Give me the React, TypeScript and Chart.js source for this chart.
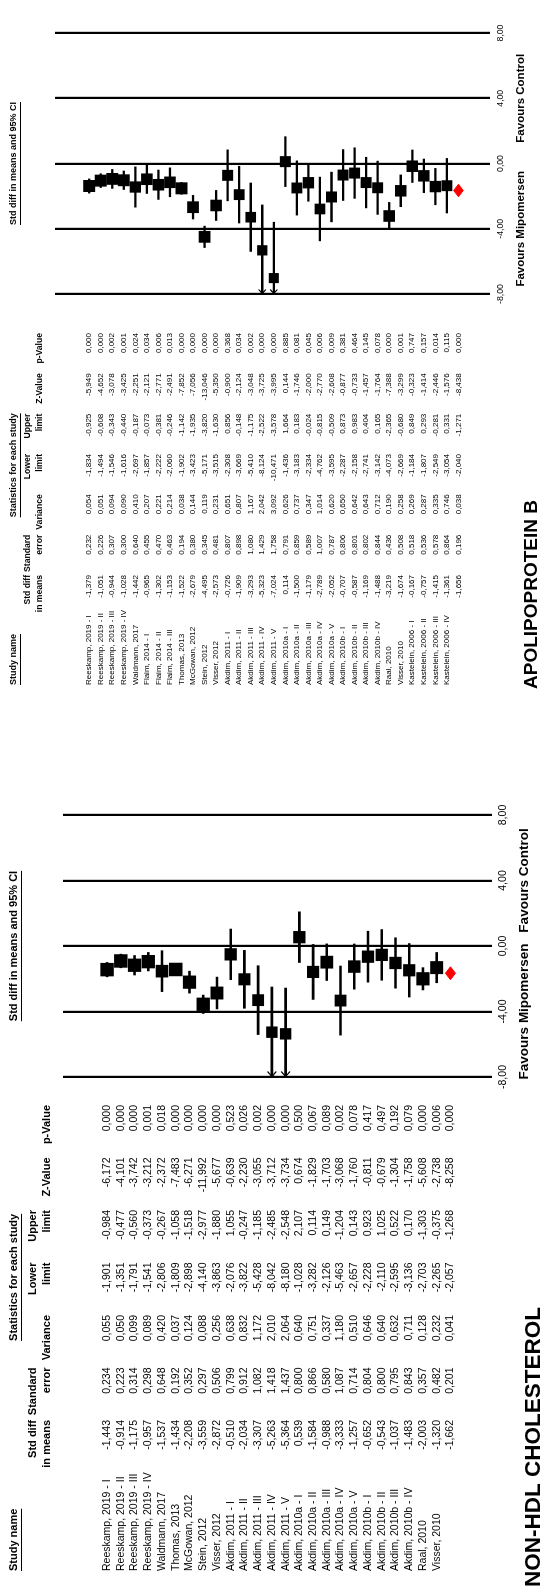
import React, { useEffect, useRef } from "react";
import { Chart, registerables } from "chart.js";

Chart.register(...registerables);

// ---------------- Non-HDL cholesterol ----------------
const nonHdlStudies = [
  "Reeskamp, 2019 - I", "Reeskamp, 2019 - II", "Reeskamp, 2019 - III", "Reeskamp, 2019 - IV",
  "Waldmann, 2017", "Thomas, 2013", "McGowan, 2012", "Stein, 2012", "Visser, 2012",
  "Akdim, 2011 - I", "Akdim, 2011 - II", "Akdim, 2011 - III", "Akdim, 2011 - IV", "Akdim, 2011 - V",
  "Akdim, 2010a - I", "Akdim, 2010a - II", "Akdim, 2010a - III", "Akdim, 2010a - IV", "Akdim, 2010a - V",
  "Akdim, 2010b - I", "Akdim, 2010b - II", "Akdim, 2010b - III", "Akdim, 2010b - IV",
  "Raal, 2010", "Visser, 2010",
];
const nonHdlSmd = [-1.443, -0.914, -1.175, -0.957, -1.537, -1.434, -2.208, -3.559, -2.872, -0.510, -2.034, -3.307, -5.263, -5.364, 0.539, -1.584, -0.988, -3.333, -1.257, -0.652, -0.543, -1.037, -1.483, -2.003, -1.320];
const nonHdlSe = [0.234, 0.223, 0.314, 0.298, 0.648, 0.192, 0.352, 0.297, 0.506, 0.799, 0.912, 1.082, 1.418, 1.437, 0.800, 0.866, 0.580, 1.087, 0.714, 0.804, 0.800, 0.795, 0.843, 0.357, 0.482];
const nonHdlVar = [0.055, 0.050, 0.099, 0.089, 0.420, 0.037, 0.124, 0.088, 0.256, 0.638, 0.832, 1.172, 2.010, 2.064, 0.640, 0.751, 0.337, 1.180, 0.510, 0.646, 0.640, 0.632, 0.711, 0.128, 0.232];
const nonHdlLower = [-1.901, -1.351, -1.791, -1.541, -2.806, -1.809, -2.898, -4.140, -3.863, -2.076, -3.822, -5.428, -8.042, -8.180, -1.028, -3.282, -2.126, -5.463, -2.657, -2.228, -2.110, -2.595, -3.136, -2.703, -2.265];
const nonHdlUpper = [-0.984, -0.477, -0.560, -0.373, -0.267, -1.058, -1.518, -2.977, -1.880, 1.055, -0.247, -1.185, -2.485, -2.548, 2.107, 0.114, 0.149, -1.204, 0.143, 0.923, 1.025, 0.522, 0.170, -1.303, -0.375];
const nonHdlZ = [-6.172, -4.101, -3.742, -3.212, -2.372, -7.483, -6.271, -11.992, -5.677, -0.639, -2.230, -3.055, -3.712, -3.734, 0.674, -1.829, -1.703, -3.068, -1.760, -0.811, -0.679, -1.304, -1.758, -5.608, -2.738];
const nonHdlP = [0.000, 0.000, 0.000, 0.001, 0.018, 0.000, 0.000, 0.000, 0.000, 0.523, 0.026, 0.002, 0.000, 0.000, 0.500, 0.067, 0.089, 0.002, 0.078, 0.417, 0.497, 0.192, 0.079, 0.000, 0.006];
// pooled: std diff, SE, variance, lower, upper, Z, p
const nonHdlPooled = [-1.662, 0.201, 0.041, -2.057, -1.268, -8.258, 0.000];

// ---------------- Apolipoprotein B ----------------
const apoBStudies = [
  "Reeskamp, 2019 - I", "Reeskamp, 2019 - II", "Reeskamp, 2019 - III", "Reeskamp, 2019 - IV",
  "Waldmann, 2017", "Flaim, 2014 - I", "Flaim, 2014 - II", "Flaim, 2014 - III",
  "Thomas, 2013", "McGowan, 2012", "Stein, 2012", "Visser, 2012",
  "Akdim, 2011 - I", "Akdim, 2011 - II", "Akdim, 2011 - III", "Akdim, 2011 - IV", "Akdim, 2011 - V",
  "Akdim, 2010a - I", "Akdim, 2010a - II", "Akdim, 2010a - III", "Akdim, 2010a - IV", "Akdim, 2010a - V",
  "Akdim, 2010b - I", "Akdim, 2010b - II", "Akdim, 2010b - III", "Akdim, 2010b - IV",
  "Raal, 2010", "Visser, 2010",
  "Kastelein, 2006 - I", "Kastelein, 2006 - II", "Kastelein, 2006 - III", "Kastelein, 2006 - IV",
];
const apoBSmd = [-1.379, -1.051, -0.944, -1.028, -1.442, -0.965, -1.302, -1.153, -1.522, -2.679, -4.495, -2.573, -0.726, -1.909, -3.293, -5.323, -7.024, 0.114, -1.500, -1.179, -2.789, -2.052, -0.707, -0.587, -1.169, -1.488, -3.219, -1.674, -0.167, -0.757, -1.415, -1.361];
const apoBSe = [0.232, 0.226, 0.307, 0.300, 0.640, 0.455, 0.470, 0.463, 0.194, 0.380, 0.345, 0.481, 0.807, 0.898, 1.080, 1.429, 1.758, 0.791, 0.859, 0.589, 1.007, 0.787, 0.806, 0.801, 0.802, 0.844, 0.436, 0.508, 0.518, 0.536, 0.578, 0.864];
const apoBVar = [0.054, 0.051, 0.094, 0.090, 0.410, 0.207, 0.221, 0.214, 0.038, 0.144, 0.119, 0.231, 0.651, 0.807, 1.167, 2.042, 3.092, 0.626, 0.737, 0.347, 1.014, 0.620, 0.650, 0.642, 0.643, 0.712, 0.190, 0.258, 0.269, 0.287, 0.335, 0.746];
const apoBLower = [-1.834, -1.494, -1.546, -1.616, -2.697, -1.857, -2.222, -2.060, -1.902, -3.423, -5.171, -3.515, -2.308, -3.669, -5.410, -8.124, -10.471, -1.436, -3.183, -2.334, -4.762, -3.595, -2.287, -2.158, -2.741, -3.142, -4.073, -2.669, -1.184, -1.807, -2.549, -3.054];
const apoBUpper = [-0.925, -0.608, -0.343, -0.440, -0.187, -0.073, -0.381, -0.246, -1.142, -1.935, -3.820, -1.630, 0.856, -0.148, -1.175, -2.522, -3.578, 1.664, 0.183, -0.024, -0.815, -0.509, 0.873, 0.983, 0.404, 0.165, -2.365, -0.680, 0.849, 0.293, -0.281, 0.331];
const apoBZ = [-5.949, -4.652, -3.078, -3.425, -2.251, -2.121, -2.771, -2.491, -7.852, -7.056, -13.046, -5.350, -0.900, -2.124, -3.048, -3.725, -3.995, 0.144, -1.746, -2.000, -2.770, -2.608, -0.877, -0.733, -1.457, -1.764, -7.388, -3.299, -0.323, -1.414, -2.446, -1.576];
const apoBP = [0.000, 0.000, 0.002, 0.001, 0.024, 0.034, 0.006, 0.013, 0.000, 0.000, 0.000, 0.000, 0.368, 0.034, 0.002, 0.000, 0.000, 0.885, 0.081, 0.045, 0.006, 0.009, 0.381, 0.464, 0.145, 0.078, 0.000, 0.001, 0.747, 0.157, 0.014, 0.115];
const apoBPooled = [-1.656, 0.196, 0.038, -2.040, -1.271, -8.438, 0.000];

// axis and headers
const axisMin = -8;
const axisMax = 8;
const axisStep = 4;
const headerLine1 = ["Std diff", "Standard", "", "Lower", "Upper", "", ""];
const headerLine2 = ["in means", "error", "Variance", "limit", "limit", "Z-Value", "p-Value"];

const FONT = '"Liberation Sans", Arial, Helvetica, sans-serif';
const TAU2 = 0.85; // between-study variance used for marker weighting
const PAGE_H = 548; // landscape drawing height (rotated onto the page)

const fmt3 = (v: number) => v.toFixed(3).replace(".", ",");
const fmt2 = (v: number) => v.toFixed(2).replace(".", ",");

type Layout = {
  canvasLeft: number; width: number;
  area: { left: number; right: number; top: number; bottom: number };
  firstRow: number; lastRow: number;
  nameLeft: number; titleLeft: number; colRight: number[];
  headTop: number; head1: number; head2: number;
  tickY: number; favY: number; titleY: number;
  bodySize: number; headSize: number; colHeadSize: number; favSize: number; tickSize: number; titleSize: number;
  ciWidth: number; gridWidth: number; sqMin: number; sqMax: number; diamondHalf: number; arrow: number;
};

type Panel = {
  title: string; studies: string[];
  smd: number[]; se: number[]; variance: number[]; lower: number[]; upper: number[]; z: number[]; p: number[];
  pooled: number[]; layout: Layout;
};

const nonHdlPanel: Panel = {
  title: "NON-HDL CHOLESTEROL",
  studies: nonHdlStudies, smd: nonHdlSmd, se: nonHdlSe, variance: nonHdlVar,
  lower: nonHdlLower, upper: nonHdlUpper, z: nonHdlZ, p: nonHdlP, pooled: nonHdlPooled,
  layout: {
    canvasLeft: 0, width: 800,
    area: { left: 516, right: 778, top: 63, bottom: 492 },
    firstRow: 73, lastRow: 485,
    nameLeft: 22, titleLeft: 6, colRight: [173, 225.5, 278, 330.5, 383, 435.5, 488],
    headTop: 14, head1: 33, head2: 47,
    tickY: 503, favY: 524, titleY: 534,
    bodySize: 10.5, headSize: 11, colHeadSize: 11, favSize: 13.5, tickSize: 10.5, titleSize: 22.5,
    ciWidth: 2.6, gridWidth: 2.2, sqMin: 10.5, sqMax: 13.5, diamondHalf: 6, arrow: 5.5,
  },
};

const apoBPanel: Panel = {
  title: "APOLIPOPROTEIN B",
  studies: apoBStudies, smd: apoBSmd, se: apoBSe, variance: apoBVar,
  lower: apoBLower, upper: apoBUpper, z: apoBZ, p: apoBP, pooled: apoBPooled,
  layout: {
    canvasLeft: 800, width: 793,
    area: { left: 499, right: 760, top: 55, bottom: 490 },
    firstRow: 63, lastRow: 485,
    nameLeft: 108, titleLeft: 104, colRight: [218, 258.3, 298.7, 339, 379.3, 419.7, 460],
    headTop: 14, head1: 28, head2: 39.5,
    tickY: 501, favY: 521, titleY: 532,
    bodySize: 8, headSize: 9, colHeadSize: 8.6, favSize: 11.5, tickSize: 8.7, titleSize: 19,
    ciWidth: 2.3, gridWidth: 2.2, sqMin: 9.5, sqMax: 12, diamondHalf: 5.5, arrow: 4.5,
  },
};

function tablePlugin(panel: Panel) {
  const L = panel.layout;
  return {
    id: "forestTable",
    afterDatasetsDraw(chart: any) {
      // arrowheads where a confidence interval runs past the axis minimum
      const ctx = chart.ctx;
      const xs = chart.scales.x;
      const ys = chart.scales.y;
      ctx.save();
      ctx.strokeStyle = "#000";
      ctx.lineWidth = 1.2;
      panel.lower.forEach((lo, i) => {
        if (lo < xs.min) {
          const x = xs.getPixelForValue(xs.min);
          const y = ys.getPixelForValue(i);
          ctx.beginPath();
          ctx.moveTo(x + L.arrow, y - L.arrow * 0.8);
          ctx.lineTo(x + 0.5, y);
          ctx.lineTo(x + L.arrow, y + L.arrow * 0.8);
          ctx.stroke();
        }
      });
      ctx.restore();
    },
    afterDraw(chart: any) {
      const ctx = chart.ctx;
      const xs = chart.scales.x;
      const ys = chart.scales.y;
      ctx.save();
      ctx.fillStyle = "#000";
      ctx.strokeStyle = "#000";
      ctx.textBaseline = "middle";
      const setFont = (size: number, bold: boolean) => {
        ctx.font = `${bold ? "bold " : ""}${size}px ${FONT}`;
      };
      const put = (s: string, x: number, y: number, align: CanvasTextAlign) => {
        ctx.textAlign = align;
        ctx.fillText(s, x, y);
      };
      const underline = (s: string, x: number, y: number, align: CanvasTextAlign, size: number) => {
        const w = ctx.measureText(s).width;
        const x0 = align === "left" ? x : align === "center" ? x - w / 2 : x - w;
        const uy = Math.round(y + size * 0.62) + 0.5;
        ctx.lineWidth = 1;
        ctx.beginPath();
        ctx.moveTo(x0, uy);
        ctx.lineTo(x0 + w, uy);
        ctx.stroke();
      };

      // header line
      setFont(L.headSize, true);
      put("Study name", L.nameLeft, L.headTop, "left");
      underline("Study name", L.nameLeft, L.headTop, "left", L.headSize);
      setFont(L.bodySize, false);
      const firstColLeft = L.colRight[0] - ctx.measureText("-0,000").width;
      const statsCenter = (firstColLeft + L.colRight[L.colRight.length - 1]) / 2;
      setFont(L.headSize, true);
      put("Statistics for each study", statsCenter, L.headTop, "center");
      underline("Statistics for each study", statsCenter, L.headTop, "center", L.headSize);
      const zeroPx = xs.getPixelForValue(0);
      put("Std diff in means and 95% CI", zeroPx, L.headTop, "center");
      underline("Std diff in means and 95% CI", zeroPx, L.headTop, "center", L.headSize);

      setFont(L.colHeadSize, true);
      headerLine1.forEach((h, c) => h && put(h, L.colRight[c], L.head1, "right"));
      headerLine2.forEach((h, c) => h && put(h, L.colRight[c], L.head2, "right"));

      // study rows + pooled row
      setFont(L.bodySize, false);
      const n = panel.studies.length;
      for (let i = 0; i <= n; i++) {
        const y = ys.getPixelForValue(i);
        const vals = i < n
          ? [panel.smd[i], panel.se[i], panel.variance[i], panel.lower[i], panel.upper[i], panel.z[i], panel.p[i]]
          : panel.pooled;
        if (i < n) put(panel.studies[i], L.nameLeft, y, "left");
        vals.forEach((v, c) => put(fmt3(v), L.colRight[c], y, "right"));
      }

      // axis labels
      setFont(L.tickSize, false);
      xs.ticks.forEach((t: any) => put(fmt2(t.value), xs.getPixelForValue(t.value), L.tickY, "center"));
      setFont(L.favSize, true);
      put("Favours Mipomersen", xs.getPixelForValue(-4), L.favY, "center");
      put("Favours Control", xs.getPixelForValue(4), L.favY, "center");

      // panel title
      setFont(L.titleSize, true);
      put(panel.title, L.titleLeft, L.titleY, "left");
      ctx.restore();
    },
  };
}

function ForestPanel({ panel }: { panel: Panel }) {
  const ref = useRef<HTMLCanvasElement>(null);
  const L = panel.layout;

  useEffect(() => {
    const canvas = ref.current;
    if (!canvas) return;
    const n = panel.studies.length; // pooled row sits at index n
    const rowPx = (L.lastRow - L.firstRow) / n;
    const yMin = -(L.firstRow - L.area.top) / rowPx;
    const yMax = n + (L.area.bottom - L.lastRow) / rowPx;

    const weights = panel.variance.map((v) => 1 / (v + TAU2));
    const wMax = Math.max(...weights);
    const sides = weights.map((w) => L.sqMin + (L.sqMax - L.sqMin) * (w / wMax));

    const ciData = panel.studies.map((_, i) => ({ x: [panel.lower[i], panel.upper[i]], y: i }));
    const pointData = panel.studies.map((_, i) => ({ x: panel.smd[i], y: i }));
    const [pm, , , plo, pup] = panel.pooled;
    const h = L.diamondHalf / rowPx;
    const diamond = [
      { x: plo, y: n }, { x: pm, y: n - h }, { x: pup, y: n }, { x: pm, y: n + h }, { x: plo, y: n },
    ];

    const chart = new Chart(canvas, {
      type: "scatter",
      data: {
        datasets: [
          {
            type: "bar",
            indexAxis: "y",
            data: ciData as any,
            backgroundColor: "#000",
            borderWidth: 0,
            barThickness: L.ciWidth,
            inflateAmount: 0,
          } as any,
          {
            type: "scatter",
            data: pointData,
            pointStyle: "rect",
            pointRadius: sides.map((s) => s / Math.SQRT2),
            pointHoverRadius: sides.map((s) => s / Math.SQRT2),
            pointBackgroundColor: "#000",
            pointBorderWidth: 0,
          } as any,
          {
            type: "line",
            data: diamond,
            borderColor: "#ff0000",
            backgroundColor: "#ff0000",
            borderWidth: 1,
            pointRadius: 0,
            fill: "shape",
            tension: 0,
          } as any,
        ],
      },
      options: {
        responsive: false,
        animation: false,
        events: [],
        layout: {
          padding: {
            left: L.area.left,
            right: L.width - L.area.right,
            top: L.area.top,
            bottom: PAGE_H - L.area.bottom,
          },
        },
        plugins: { legend: { display: false }, tooltip: { enabled: false } },
        scales: {
          x: {
            type: "linear",
            min: axisMin,
            max: axisMax,
            offset: false,
            ticks: { stepSize: axisStep, display: false },
            grid: { color: "#000", lineWidth: L.gridWidth, drawTicks: false, offset: false },
            border: { display: false },
          },
          y: { type: "linear", min: yMin, max: yMax, reverse: true, display: false },
        },
      } as any,
      plugins: [tablePlugin(panel)],
    });
    return () => chart.destroy();
  }, [panel]);

  return (
    <canvas
      ref={ref}
      width={L.width}
      height={PAGE_H}
      style={{ position: "absolute", left: L.canvasLeft, top: 0, width: L.width, height: PAGE_H }}
    />
  );
}

export default function App() {
  return (
    <div style={{ position: "absolute", left: 0, top: 0, width: 548, height: 1593, overflow: "hidden", background: "#fff" }}>
      <div
        style={{
          position: "absolute", left: 0, top: 0, width: 1593, height: PAGE_H,
          transformOrigin: "0 0", transform: "translate(0px, 1593px) rotate(-90deg)",
        }}
      >
        <ForestPanel panel={nonHdlPanel} />
        <ForestPanel panel={apoBPanel} />
      </div>
    </div>
  );
}
